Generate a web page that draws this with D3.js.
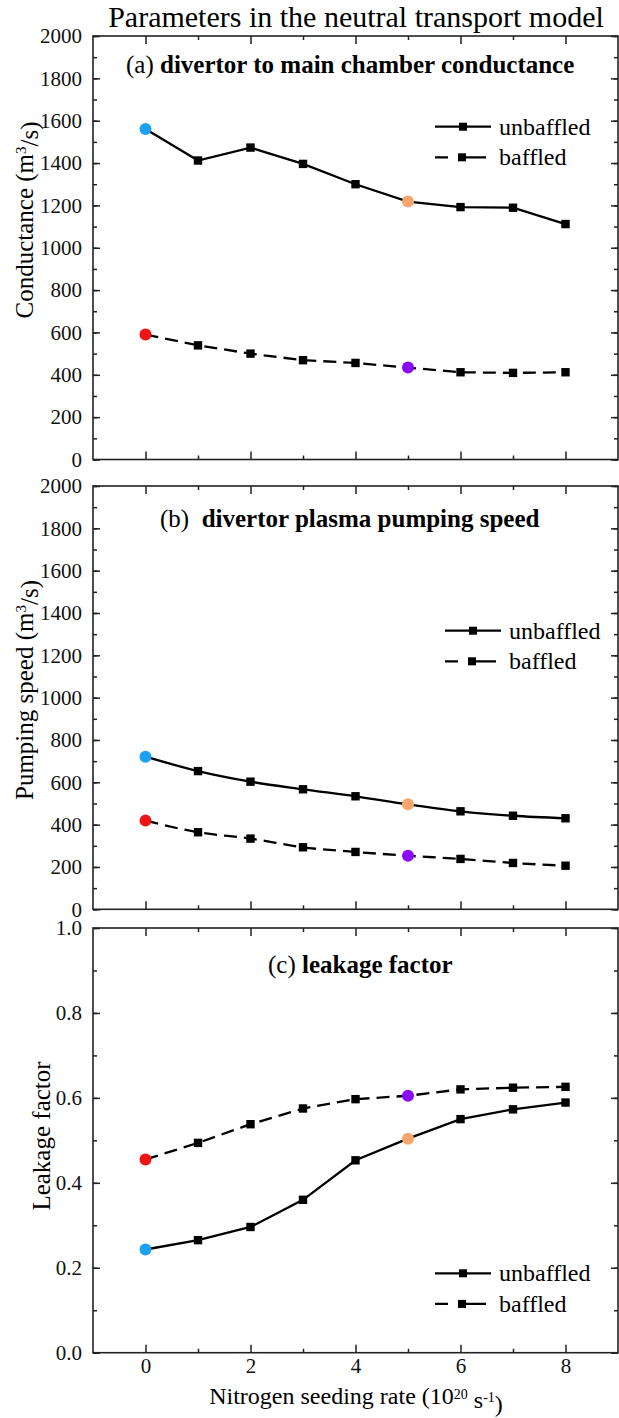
<!DOCTYPE html>
<html>
<head>
<meta charset="utf-8">
<script src="https://cdn.jsdelivr.net/npm/d3@7"></script>
<style>
	body { margin: 0; background: #fff; }
	svg { display: block; font-family: "Liberation Serif", "Times New Roman", serif; }
</style>
</head>
<body>
<svg id="svgChart" width="619" height="1418"></svg>
<script>
// Chart data
const seedRate = [0, 1, 2, 3, 4, 5, 6, 7, 8];
const condUnbaffled = [1561, 1412, 1473, 1396, 1300, 1218, 1192, 1189, 1112];
const condBaffled = [590, 539, 500, 469, 456, 434, 412, 409, 412];
const pumpUnbaffled = [721, 653, 603, 567, 534, 496, 463, 442, 430];
const pumpBaffled = [419, 364, 334, 293, 271, 253, 238, 219, 206];
const leakUnbaffled = [0.243, 0.265, 0.296, 0.360, 0.453, 0.504, 0.550, 0.573, 0.589];
const leakBaffled = [0.455, 0.494, 0.538, 0.575, 0.597, 0.605, 0.620, 0.624, 0.626];

// Highlighted points (index -> colour) for each series
const highlightIdx = [0, 5];
const unbaffledColors = ["#1ea0f0", "#f5a66c"];
const baffledColors = ["#ee1414", "#8a0af5"];

const seriesNames = ["unbaffled", "baffled"];
const xTicks = [0, 2, 4, 6, 8];
const xMinor = [1, 3, 5, 7];
const yTicksPS = [0, 200, 400, 600, 800, 1000, 1200, 1400, 1600, 1800, 2000];
const yTicksLeak = [0.0, 0.2, 0.4, 0.6, 0.8, 1.0];

var fig = [];
fig.left = 93;
fig.right = 618;

fig.panels = [
	{ top: 36, bottom: 459.5, domain: [0, 2000], ticks: yTicksPS, minorStep: 100, fmt: d3.format("d"),
	  unb: condUnbaffled, baf: condBaffled, curve: d3.curveLinear,
	  label: "(a) ", bold: "divertor to main chamber conductance", titleX: 126, titleY: 73,
	  yTitle: ["Conductance (m", "3", "/s)"], yTitleX: 33, yTitleY: 220,
	  legX: 435, legY: 126.7, xLabels: false },
	{ top: 486, bottom: 909.3, domain: [0, 2000], ticks: yTicksPS, minorStep: 100, fmt: d3.format("d"),
	  unb: pumpUnbaffled, baf: pumpBaffled, curve: d3.curveMonotoneX,
	  label: "(b)  ", bold: "divertor plasma pumping speed", titleX: 160, titleY: 527,
	  yTitle: ["Pumping speed (m", "3", "/s)"], yTitleX: 33, yTitleY: 690,
	  legX: 445, legY: 630.7, xLabels: false },
	{ top: 928, bottom: 1352.7, domain: [0, 1], ticks: yTicksLeak, minorStep: 0.1, fmt: d3.format(".1f"),
	  unb: leakUnbaffled, baf: leakBaffled, curve: d3.curveLinear,
	  label: "(c) ", bold: "leakage factor", titleX: 268, titleY: 973,
	  yTitle: ["Leakage factor"], yTitleX: 50, yTitleY: 1136,
	  legX: 435, legY: 1273.3, xLabels: true }
];

fig.init = () => {
	let svg = d3.select("#svgChart");
	let x = d3.scaleLinear().domain([-1, 9]).range([fig.left, fig.right]);

	// Main title
	svg.append("text")
		.attr("x", 356)
		.attr("y", 27)
		.attr("text-anchor", "middle")
		.style("font-size", "30px")
		.text("Parameters in the neutral transport model");

	fig.panels.forEach(p => fig.drawPanel(svg, x, p));

	// X axis title
	let xt = svg.append("text")
		.attr("x", 356)
		.attr("y", 1404)
		.attr("text-anchor", "middle")
		.style("font-size", "24px");
	xt.append("tspan").text("Nitrogen seeding rate (10");
	xt.append("tspan").attr("dy", "-0.38em").style("font-size", "14px").text("20");
	xt.append("tspan").attr("dy", "0.38em").text(" s");
	xt.append("tspan").attr("dy", "-0.38em").style("font-size", "14px").text("-1");
	xt.append("tspan").attr("dy", "0.38em").text(")");
}

fig.drawPanel = (svg, x, p) => {
	let y = d3.scaleLinear().domain(p.domain).range([p.bottom, p.top]);
	let g = svg.append("g");
	let minor = d3.range(p.domain[0], p.domain[1] + p.minorStep / 2, p.minorStep);

	// Frame
	g.append("rect")
		.attr("x", fig.left)
		.attr("y", p.top)
		.attr("width", fig.right - fig.left)
		.attr("height", p.bottom - p.top)
		.attr("fill", "none")
		.attr("stroke", "#222")
		.attr("stroke-width", 1.6);

	// Ticks (all pointing inward)
	const axisStyle = (sel) => {
		sel.select(".domain").remove();
		sel.selectAll("line").attr("stroke", "#222").attr("stroke-width", 1.5);
		sel.selectAll("text").style("font-size", "21px").style("font-family", "Liberation Serif").attr("fill", "#111");
	};
	g.append("g").attr("transform", "translate(0," + p.bottom + ")")
		.call(d3.axisBottom(x).tickValues(xTicks).tickSize(-8).tickPadding(5)
			.tickFormat(p.xLabels ? d3.format("d") : ""))
		.call(axisStyle);
	g.append("g").attr("transform", "translate(0," + p.bottom + ")")
		.call(d3.axisBottom(x).tickValues(xMinor).tickSize(-4).tickFormat(""))
		.call(axisStyle);
	g.append("g").attr("transform", "translate(0," + p.top + ")")
		.call(d3.axisTop(x).tickValues(xTicks).tickSize(-8).tickFormat(""))
		.call(axisStyle);
	g.append("g").attr("transform", "translate(0," + p.top + ")")
		.call(d3.axisTop(x).tickValues(xMinor).tickSize(-4).tickFormat(""))
		.call(axisStyle);
	g.append("g").attr("transform", "translate(" + fig.left + ",0)")
		.call(d3.axisLeft(y).tickValues(p.ticks).tickSize(-7).tickPadding(11).tickFormat(p.fmt))
		.call(axisStyle);
	g.append("g").attr("transform", "translate(" + fig.left + ",0)")
		.call(d3.axisLeft(y).tickValues(minor).tickSize(-4).tickFormat(""))
		.call(axisStyle);
	g.append("g").attr("transform", "translate(" + fig.right + ",0)")
		.call(d3.axisRight(y).tickValues(p.ticks).tickSize(-7).tickFormat(""))
		.call(axisStyle);
	g.append("g").attr("transform", "translate(" + fig.right + ",0)")
		.call(d3.axisRight(y).tickValues(minor).tickSize(-4).tickFormat(""))
		.call(axisStyle);

	// Y axis title
	let yt = g.append("text")
		.attr("transform", "translate(" + p.yTitleX + "," + p.yTitleY + ") rotate(-90)")
		.attr("text-anchor", "middle")
		.style("font-size", "25px");
	yt.append("tspan").text(p.yTitle[0]);
	if (p.yTitle.length > 1) {
		yt.append("tspan").attr("dy", "-0.45em").style("font-size", "15px").text(p.yTitle[1]);
		yt.append("tspan").attr("dy", "0.45em").text(p.yTitle[2]);
	}

	// Panel title
	let tt = g.append("text")
		.attr("x", p.titleX)
		.attr("y", p.titleY)
		.style("font-size", "25px")
		.attr("xml:space", "preserve");
	tt.append("tspan").text(p.label);
	tt.append("tspan").style("font-weight", "bold").text(p.bold);

	// Series
	let series = [
		{ vals: p.unb, dash: null, colors: unbaffledColors },
		{ vals: p.baf, dash: "13,7", colors: baffledColors }
	];
	series.forEach(s => {
		let pts = seedRate.map((r, i) => ({ r: r, v: s.vals[i], i: i }));
		g.append("path")
			.datum(pts)
			.attr("fill", "none")
			.attr("stroke", "#000")
			.attr("stroke-width", 2.3)
			.attr("stroke-dasharray", s.dash)
			.attr("d", d3.line().x(d => x(d.r)).y(d => y(d.v)).curve(p.curve));
		g.selectAll(null)
			.data(pts.filter(d => highlightIdx.indexOf(d.i) == -1))
			.enter()
			.append("rect")
			.attr("x", d => x(d.r) - 4.2)
			.attr("y", d => y(d.v) - 4.2)
			.attr("width", 8.4)
			.attr("height", 8.4)
			.attr("fill", "#000");
		g.selectAll(null)
			.data(pts.filter(d => highlightIdx.indexOf(d.i) != -1))
			.enter()
			.append("circle")
			.attr("cx", d => x(d.r))
			.attr("cy", d => y(d.v))
			.attr("r", 6)
			.attr("fill", d => s.colors[highlightIdx.indexOf(d.i)]);
	});

	// Legend
	seriesNames.forEach((name, i) => {
		let ly = p.legY + i * 30.6;
		g.append("line")
			.attr("x1", p.legX)
			.attr("x2", p.legX + (i == 0 ? 56 : 51))
			.attr("y1", ly)
			.attr("y2", ly)
			.attr("stroke", "#000")
			.attr("stroke-width", 2.3)
			.attr("stroke-dasharray", i == 0 ? null : "13,10,40");
		g.append("rect")
			.attr("x", p.legX + (i == 0 ? 28 : 27) - 4)
			.attr("y", ly - 4)
			.attr("width", 8)
			.attr("height", 8)
			.attr("fill", "#000");
		g.append("text")
			.attr("x", p.legX + 64)
			.attr("y", ly + 8)
			.style("font-size", "24px")
			.text(name);
	});
}

fig.init();
</script>
</body>
</html>
